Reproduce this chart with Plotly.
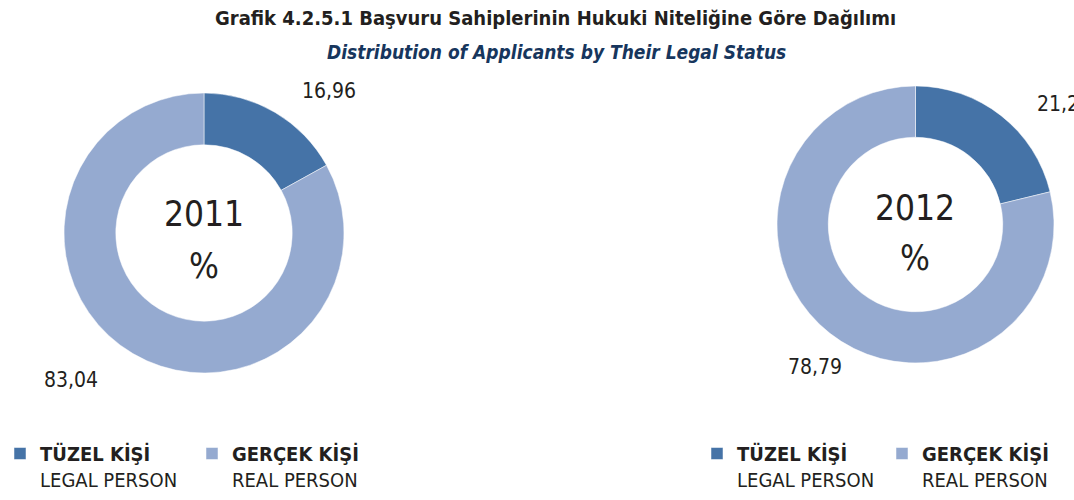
import plotly.graph_objects as go

# Veriler
years = ["2011", "2012"]
labels_tr = ["TÜZEL KİŞİ", "GERÇEK KİŞİ"]
labels_en = ["LEGAL PERSON", "REAL PERSON"]
values_2011 = [16.96, 83.04]
values_2012 = [21.21, 78.79]
colors = ["#4573A7", "#95AAD0"]

W, H = 1074, 500
FONT = "DejaVu Sans Condensed, Liberation Sans Narrow, Arial Narrow, sans-serif"


def px(x):
    return x / W


def py(y):
    return 1 - y / H


def fmt(v):
    return f"{v:.2f}".replace(".", ",")


legend_labels = [f"<b>{tr}</b><br>{en}" for tr, en in zip(labels_tr, labels_en)]
# ikinci halka için ayrı lejant (pie lejantları etikete göre birleştiriliyor)
legend_labels_2 = [lbl + "\u200b" for lbl in legend_labels]

fig = go.Figure()

# Sol halka (2011)
fig.add_trace(go.Pie(
    labels=legend_labels,
    values=values_2011,
    hole=0.63,
    sort=False,
    direction="clockwise",
    rotation=0,
    textinfo="none",
    marker=dict(colors=colors, line=dict(color="white", width=0.5)),
    domain=dict(x=[px(64), px(344)], y=[py(374), py(92)]),
    legend="legend",
))

# Sağ halka (2012)
fig.add_trace(go.Pie(
    labels=legend_labels_2,
    values=values_2012,
    hole=0.63,
    sort=False,
    direction="clockwise",
    rotation=0,
    textinfo="none",
    marker=dict(colors=colors, line=dict(color="white", width=0.5)),
    domain=dict(x=[px(777), px(1054)], y=[py(363), py(86)]),
    legend="legend2",
))

annotations = []

# Başlıklar
annotations.append(dict(
    text="<b>Grafik 4.2.5.1 Başvuru Sahiplerinin Hukuki Niteliğine Göre Dağılımı</b>",
    x=px(555), y=py(18), xref="paper", yref="paper", showarrow=False,
    font=dict(family=FONT, size=20, color="#231F20"), xanchor="center", yanchor="middle",
))
annotations.append(dict(
    text="<b><i>Distribution of Applicants by Their Legal Status</i></b>",
    x=px(556), y=py(52), xref="paper", yref="paper", showarrow=False,
    font=dict(family=FONT, size=19, color="#17365D"), xanchor="center", yanchor="middle",
))

# Halka ortası yazılar
centers = [(204, 214, 266), (915, 208, 258)]
for year, (cx, cy1, cy2) in zip(years, centers):
    annotations.append(dict(
        text=year, x=px(cx), y=py(cy1), xref="paper", yref="paper", showarrow=False,
        font=dict(family=FONT, size=35, color="#231F20"), xanchor="center", yanchor="middle",
    ))
    annotations.append(dict(
        text="%", x=px(cx), y=py(cy2), xref="paper", yref="paper", showarrow=False,
        font=dict(family=FONT, size=35, color="#231F20"), xanchor="center", yanchor="middle",
    ))

# Değer etiketleri
label_pos = [
    (values_2011[0], 300, 91),
    (values_2011[1], 42, 380),
    (values_2012[0], 1035, 104),
    (values_2012[1], 786, 367),
]
for v, lx, ly in label_pos:
    annotations.append(dict(
        text=fmt(v), x=px(lx), y=py(ly), xref="paper", yref="paper", showarrow=False,
        font=dict(family=FONT, size=21, color="#231F20"), xanchor="left", yanchor="middle",
    ))

legend_style = dict(
    orientation="h",
    yanchor="top",
    xanchor="left",
    valign="top",
    font=dict(family=FONT, size=20, color="#231F20"),
    bgcolor="rgba(0,0,0,0)",
    itemwidth=30,
    traceorder="normal",
)

fig.update_layout(
    width=W,
    height=H,
    margin=dict(l=0, r=0, t=0, b=0),
    paper_bgcolor="white",
    plot_bgcolor="white",
    showlegend=True,
    legend=dict(x=0, y=py(434), entrywidth=147, **legend_style),
    legend2=dict(x=px(697), y=py(434), entrywidth=140, **legend_style),
    annotations=annotations,
)

fig.write_html(
    "out.html",
    config={"displayModeBar": False},
    post_script="document.body.style.margin='0';",
)
